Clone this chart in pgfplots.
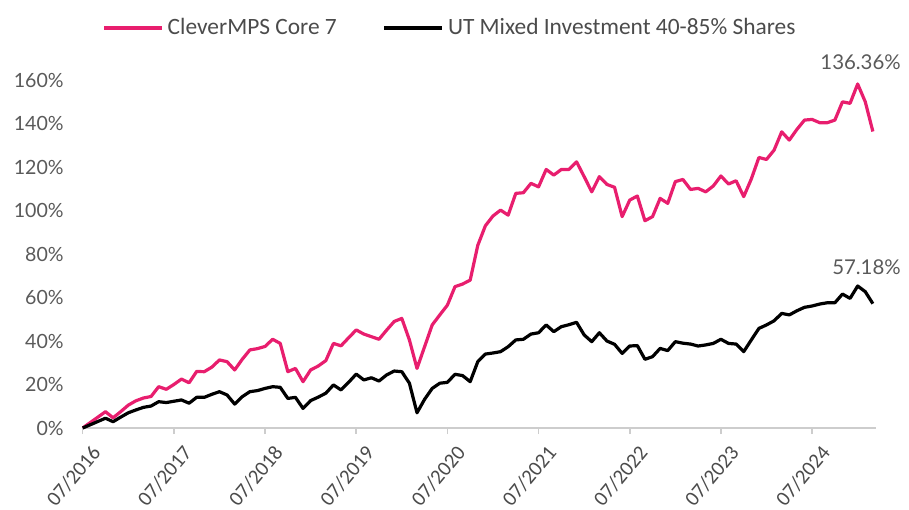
\documentclass[border=0pt]{standalone}
\usepackage{fontspec}
\setmainfont{Carlito}
\newfontfamily\latofont{Lato}
\usepackage{pgfplots}
\pgfplotsset{compat=1.18}
\definecolor{cpink}{RGB}{232,30,110}
\definecolor{txtgray}{RGB}{75,75,75}
\definecolor{ticgray}{RGB}{90,90,90}
\definecolor{axgray}{RGB}{205,205,205}
\begin{document}
\begin{tikzpicture}
\begin{axis}[
  at={(0,0)}, anchor=south west,
  width=396.6pt, height=179.4pt, scale only axis,
  xmin=0, xmax=104.4, ymin=0, ymax=165,
  clip=false,
  axis lines=left,
  axis line style={-},
  x axis line style={axgray, line width=0.8pt},
  y axis line style={draw=none},
  xtick={0,12,...,96},
  xticklabels={07/2016,07/2017,07/2018,07/2019,07/2020,07/2021,07/2022,07/2023,07/2024},
  ytick={0,20,...,160},
  yticklabel={\pgfmathprintnumber{\tick}\%},
  /pgf/number format/assume math mode=true,
  tick align=outside,
  major tick length=3pt,
  xtick style={axgray, line width=0.8pt},
  ytick style={draw=none},
  y tick label style={font=\latofont\fontsize{9.8}{12}\selectfont, text=ticgray, xshift=-3pt},
  x tick label style={font=\fontsize{10.4}{12}\selectfont, text=txtgray, xshift=3.5pt, yshift=0pt, rotate=50, anchor=north east},
  legend columns=2,
  legend style={at={(rel axis cs:0.4643,1.115)}, anchor=center, draw=none, fill=none,
    font=\fontsize{11.7}{14}\selectfont, text=txtgray,
    /tikz/every even column/.append style={column sep=21pt}},
  legend image code/.code={\draw[#1] (0pt,0pt) -- (29pt,0pt);},
]
\addplot[cpink, line width=1.6pt, line join=round] coordinates {
(0,0) (1,2.5) (2,5) (3,7.5) (4,4.7) (5,7.5) (6,10.5) (7,12.5) (8,13.8) (9,14.5)
(10,19) (11,17.8) (12,20) (13,22.5) (14,20.8) (15,26) (16,25.9) (17,28) (18,31.3) (19,30.5)
(20,26.7) (21,31.6) (22,35.9) (23,36.5) (24,37.5) (25,40.8) (26,38.9) (27,25.9) (28,27.4) (29,21.3)
(30,26.7) (31,28.5) (32,31) (33,38.9) (34,37.8) (35,41.5) (36,45.1) (37,43.2) (38,42) (39,40.8)
(40,45) (41,49) (42,50.4) (43,40.5) (44,27.4) (45,37.4) (46,47.4) (47,52) (48,56.5) (49,65)
(50,66.2) (51,68) (52,84) (53,93) (54,97.5) (55,100.2) (56,97.9) (57,107.9) (58,108.2) (59,112.5)
(60,110.9) (61,118.9) (62,116.3) (63,118.9) (64,118.9) (65,122.4) (66,115.6) (67,108.6) (68,115.6) (69,112)
(70,110.7) (71,97.2) (72,104.8) (73,106.7) (74,95.3) (75,97.2) (76,105.6) (77,103.3) (78,113.3) (79,114.3)
(80,109.7) (81,110.2) (82,108.6) (83,111.3) (84,115.9) (85,112.2) (86,113.7) (87,106.4) (88,114.5) (89,124.4)
(90,123.5) (91,127.8) (92,136.2) (93,132.4) (94,137.3) (95,141.6) (96,141.9) (97,140.4) (98,140.4) (99,141.6)
(100,150.0) (101,149.3) (102,158.2) (103,150.0) (104,136.36)
};
\addlegendentry{CleverMPS Core 7}
\addplot[black, line width=1.6pt, line join=round] coordinates {
(0,0) (1,1.5) (2,3) (3,4.5) (4,2.9) (5,5) (6,7) (7,8.3) (8,9.5) (9,10.1)
(10,12.1) (11,11.7) (12,12.3) (13,12.9) (14,11.4) (15,14.1) (16,14.1) (17,15.5) (18,16.7) (19,15.2)
(20,11) (21,14.4) (22,16.7) (23,17.2) (24,18.2) (25,19.0) (26,18.7) (27,13.6) (28,14.1) (29,9.0)
(30,12.6) (31,14.2) (32,16) (33,19.8) (34,17.5) (35,21) (36,24.8) (37,22.1) (38,23.1) (39,21.6)
(40,24.4) (41,26.2) (42,25.9) (43,20.6) (44,7.0) (45,13.2) (46,18.2) (47,20.6) (48,21.0) (49,24.7)
(50,24.1) (51,21.3) (52,30.5) (53,34.0) (54,34.5) (55,35.1) (56,37.4) (57,40.5) (58,40.8) (59,43.2)
(60,43.8) (61,47.4) (62,44.3) (63,46.6) (64,47.5) (65,48.6) (66,42.8) (67,39.7) (68,43.8) (69,40)
(70,38.5) (71,34.3) (72,37.7) (73,37.9) (74,31.6) (75,32.8) (76,36.6) (77,35.6) (78,39.7) (79,39)
(80,38.6) (81,37.7) (82,38.2) (83,38.9) (84,40.8) (85,38.9) (86,38.6) (87,35.1) (88,40.5) (89,45.8)
(90,47.4) (91,49.3) (92,52.7) (93,52.0) (94,53.9) (95,55.5) (96,56.1) (97,57.0) (98,57.6) (99,57.6)
(100,61.6) (101,59.6) (102,65.3) (103,62.7) (104,57.18)
};
\addlegendentry{UT Mixed Investment 40-85\% Shares}
\node[anchor=east, font=\latofont\fontsize{10.2}{12}\selectfont, text=ticgray] at (axis cs:108.6,168.3) {136.36\%};
\node[anchor=east, font=\latofont\fontsize{10.2}{12}\selectfont, text=ticgray] at (axis cs:108.6,74) {57.18\%};
\end{axis}
\pgfresetboundingbox
\useasboundingbox (-41.35pt,-40.5pt) rectangle (413.15pt,214pt);
\end{tikzpicture}
\end{document}
